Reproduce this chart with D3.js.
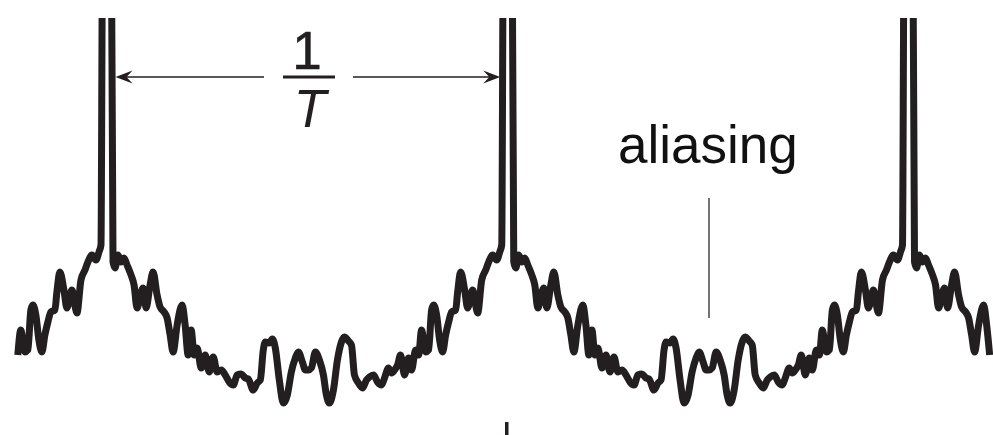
<!DOCTYPE html>
<html>
<head>
<meta charset="utf-8">
<script src="https://cdn.jsdelivr.net/npm/d3@7"></script>
<style>
  html, body { margin: 0; padding: 0; background: #fff; }
  svg { display: block; }
</style>
</head>
<body>
<svg id="chart" width="993" height="435"></svg>
<script>
// One period of the spectrum: frequency bins (400 bins = 1/T) measured from a spectral peak
const bins = [4.5, 6, 8, 11, 14, 17, 20, 24, 27, 30, 34, 36, 39, 43, 46, 50, 53, 57, 60, 63, 66, 70, 75, 78, 81, 84, 87, 90, 94, 98,
  102, 106, 110, 114, 118, 122, 126, 130, 134, 138, 141, 146, 150, 153, 156, 158, 162, 165, 168, 172, 176, 180, 184, 188, 191, 195, 198,
  201, 204, 208, 212, 216, 219, 222, 226, 230, 234, 237, 241, 244, 247, 251, 255, 259, 262, 266, 270, 274, 277, 281, 284, 287, 290,
  293, 297, 301, 304, 308, 311, 314, 318, 321, 324, 326, 329, 332, 335, 338, 341, 344, 348, 350, 353, 357, 360, 365, 370, 374, 378,
  381, 385, 389, 392, 394, 395.5];
const amplitude = [45, 15.6, 15.0, 16.3, 15.6, 16.0, 15.3, 14.3, 13.3, 11.0, 12.6, 13.0, 11.0, 13.3, 14.6, 12.3, 11.1, 10.6, 10.0, 8.3, 6.6, 9.3, 11.3, 9.3, 6.3, 8.8, 6.3, 7.0, 5.0, 6.3,
  4.6, 6.1, 4.6, 4.8, 4.3, 3.6, 3.3, 4.3, 4.4, 4.0, 3.9, 2.8, 3.5, 3.8, 6.8, 7.6, 7.5, 7.9, 7.0, 3.8, 1.5, 2.3, 4.6, 6.0, 6.6, 5.6, 4.8,
  4.8, 5.0, 6.6, 5.8, 4.3, 2.3, 1.5, 2.8, 5.8, 7.6, 8.1, 7.7, 7.3, 4.3, 3.5, 3.0, 3.8, 4.1, 4.3, 3.6, 3.3, 4.0, 5.0, 4.5, 4.8, 5.3,
  6.3, 4.3, 6.0, 4.8, 6.8, 6.3, 8.8, 6.6, 6.8, 10.8, 11.3, 10.3, 7.8, 6.6, 8.3, 9.6, 10.6, 10.8, 12.6, 14.6, 12.8, 11.0, 12.8, 10.5, 13.8, 14.8,
  15.6, 16.3, 15.8, 16.6, 17.3, 45];
// Spectral replicas (multiples of 1/T) and visible frequency range, in bins
const replicas = [-1, 0, 1, 2];
const binsPerPeriod = 400;
const visibleRange = [-89, 881];
const periodLabel = ["1", "T"];
const annotation = "aliasing";

const svg = d3.select("#chart");
const ink = "#231f20";

const x = d3.scaleLinear().domain([0, 800]).range([107, 908.5]);
const y = d3.scaleLinear().domain([0, 40]).range([418, 18]);

// Build the repeated spectrum
const points = [];
replicas.forEach(k => {
  bins.forEach((b, i) => {
    const f = b + k * binsPerPeriod;
    if (f >= visibleRange[0] && f <= visibleRange[1]) points.push([f, amplitude[i]]);
  });
});
points.sort((a, b) => a[0] - b[0]);

svg.append("defs").append("clipPath").attr("id", "clip")
  .append("rect").attr("x", 0).attr("y", y(40)).attr("width", 993).attr("height", 435);

const line = d3.line().x(d => x(d[0])).y(d => y(d[1])).curve(d3.curveMonotoneX);

svg.append("path")
  .datum(points)
  .attr("clip-path", "url(#clip)")
  .attr("d", line)
  .attr("fill", "none")
  .attr("stroke", ink)
  .attr("stroke-width", 7)
  .attr("stroke-linejoin", "round");

// Arrow between first two peaks
const arrowY = 77;
const leftTip = x(0) + 8.5;
const rightTip = x(binsPerPeriod) - 7.5;
const labelX = 309;

function arrowHead(tipX, dir) {
  const L = 17, H = 6.5, notch = 11;
  const p = [
    [tipX, arrowY],
    [tipX - dir * L, arrowY - H],
    [tipX - dir * notch, arrowY],
    [tipX - dir * L, arrowY + H]
  ];
  svg.append("path").attr("d", "M" + p.map(q => q.join(",")).join("L") + "Z").attr("fill", ink);
}

svg.append("line").attr("x1", leftTip + 5).attr("x2", 264).attr("y1", arrowY).attr("y2", arrowY)
  .attr("stroke", ink).attr("stroke-width", 1.6);
svg.append("line").attr("x1", 353).attr("x2", rightTip - 5).attr("y1", arrowY).attr("y2", arrowY)
  .attr("stroke", ink).attr("stroke-width", 1.6);
arrowHead(leftTip, -1);
arrowHead(rightTip, 1);

// Fraction 1/T
svg.append("line").attr("x1", 283).attr("x2", 335).attr("y1", arrowY).attr("y2", arrowY)
  .attr("stroke", ink).attr("stroke-width", 2.8);
svg.append("text").attr("x", labelX - 2).attr("y", 69).attr("text-anchor", "middle")
  .attr("font-family", "Liberation Sans, Arial, sans-serif").attr("font-size", 53).attr("fill", ink)
  .attr("stroke", ink).attr("stroke-width", 0.6)
  .text(periodLabel[0]);
svg.append("text").attr("x", labelX + 1).attr("y", 127).attr("text-anchor", "middle")
  .attr("font-family", "Liberation Sans, Arial, sans-serif").attr("font-size", 53).attr("font-style", "italic").attr("fill", ink)
  .text(periodLabel[1]);

// aliasing annotation
svg.append("text").attr("x", 618).attr("y", 163)
  .attr("font-family", "Liberation Sans, Arial, sans-serif").attr("font-size", 53).attr("fill", "#111")
  .text(annotation);
svg.append("line").attr("x1", 709).attr("x2", 709).attr("y1", 198).attr("y2", 318)
  .attr("stroke", "#444").attr("stroke-width", 1.5);

// small tick at bottom (frequency axis mark)
svg.append("line").attr("x1", x(binsPerPeriod) - 1).attr("x2", x(binsPerPeriod) - 1).attr("y1", 422).attr("y2", 435)
  .attr("stroke", ink).attr("stroke-width", 3.5);
</script>
</body>
</html>
